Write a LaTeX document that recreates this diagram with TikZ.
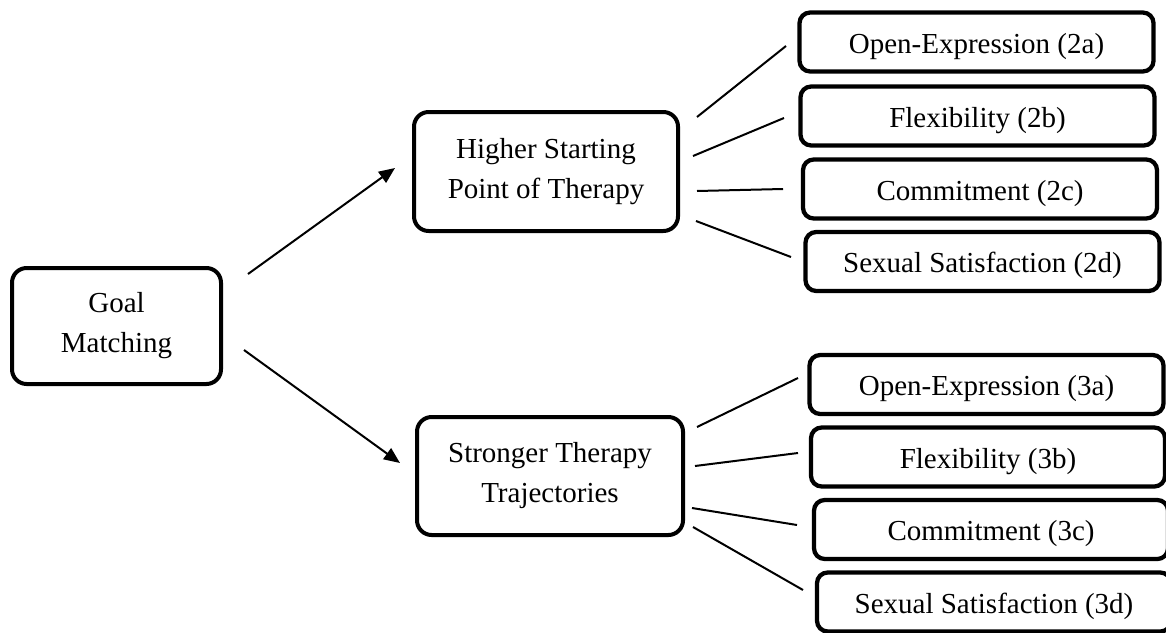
\documentclass[tikz,border=0pt]{standalone}
\usepackage{fontspec}
\setmainfont{Liberation Serif}
\usetikzlibrary{arrows.meta}
\begin{document}
\begin{tikzpicture}[x=0.75pt,y=-0.75pt,
  bigbox/.style={draw, line width=3pt, rounded corners=11pt, align=center, inner sep=0pt,
    font=\fontsize{21.75}{30}\selectfont},
  smallbox/.style={draw, line width=3.2pt, rounded corners=8pt, minimum width=265.5pt,
    minimum height=44.25pt, inner sep=0pt, text height=17pt, text depth=0pt,
    font=\fontsize{21.75}{26}\selectfont},
  link/.style={line width=1.5pt},
  arr/.style={line width=1.5pt, -{Triangle[length=12pt,width=10pt]}}]
\clip (0,0) rectangle (1166,632);
% main boxes
\node[bigbox, minimum width=156.75pt, minimum height=87pt] (goal) at (116.5,326) {Goal\\Matching};
\node[bigbox, minimum width=198pt, minimum height=89.25pt] (hi) at (546,171.5) {Higher Starting\\Point of Therapy};
\node[bigbox, minimum width=199.5pt, minimum height=88.5pt] (st) at (550,476) {Stronger Therapy\\Trajectories};
% outcome boxes
\node[smallbox] (o2a) at (976.5,42) {Open-Expression (2a)};
\node[smallbox] (o2b) at (977.5,116) {Flexibility (2b)};
\node[smallbox] (o2c) at (980,189) {Commitment (2c)};
\node[smallbox] (o2d) at (982.5,261.5) {Sexual Satisfaction (2d)};
\node[smallbox] (o3a) at (986.5,384.5) {Open-Expression (3a)};
\node[smallbox] (o3b) at (988,457) {Flexibility (3b)};
\node[smallbox] (o3c) at (991,529.5) {Commitment (3c)};
\node[smallbox] (o3d) at (994,602) {Sexual Satisfaction (3d)};
% arrows
\coordinate (g1) at (248,274);
\coordinate (g1t) at (395,168);
\coordinate (g2) at (244,350);
\coordinate (g2t) at (400,463);
\draw[arr] (g1) -- (g1t);
\draw[arr] (g2) -- (g2t);
% connector lines, top group
\coordinate (h1s) at (697,117); \coordinate (h1e) at (786,46);
\coordinate (h2s) at (693,156); \coordinate (h2e) at (784,118);
\coordinate (h3s) at (697,191); \coordinate (h3e) at (783,189);
\coordinate (h4s) at (696,221); \coordinate (h4e) at (791,257);
\draw[link] (h1s) -- (h1e);
\draw[link] (h2s) -- (h2e);
\draw[link] (h3s) -- (h3e);
\draw[link] (h4s) -- (h4e);
% connector lines, bottom group
\coordinate (s1s) at (697,427); \coordinate (s1e) at (798,378);
\coordinate (s2s) at (695,466); \coordinate (s2e) at (798,453);
\coordinate (s3s) at (692,508); \coordinate (s3e) at (797,525);
\coordinate (s4s) at (693,527); \coordinate (s4e) at (803,590);
\draw[link] (s1s) -- (s1e);
\draw[link] (s2s) -- (s2e);
\draw[link] (s3s) -- (s3e);
\draw[link] (s4s) -- (s4e);
\end{tikzpicture}
\end{document}
